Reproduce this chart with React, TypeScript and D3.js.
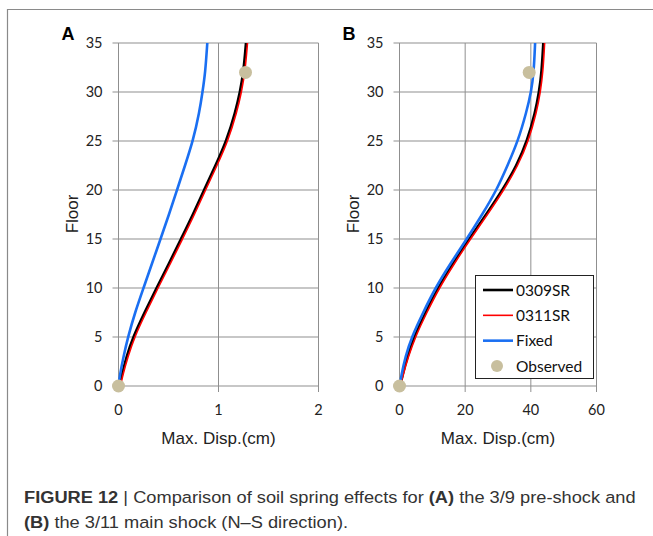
import React, { useEffect, useRef } from 'react'
import * as d3 from 'd3'

// floors shared by every curve
const floors = [0, 1, 3, 5, 7.5, 10, 12.5, 15, 17.5, 20, 22.5, 25, 28, 30, 32, 35]

// panel A - 3/9 pre-shock (cm)
const a0309 = [0.01, 0.03, 0.08, 0.145, 0.26, 0.38, 0.505, 0.625, 0.745, 0.855, 0.97, 1.08, 1.17, 1.215, 1.25, 1.275]
const a0311 = [0.02, 0.04, 0.095, 0.16, 0.275, 0.395, 0.52, 0.64, 0.76, 0.87, 0.985, 1.095, 1.185, 1.23, 1.265, 1.29]
const aFixed = [0, 0.012, 0.05, 0.095, 0.165, 0.25, 0.335, 0.42, 0.505, 0.585, 0.665, 0.745, 0.81, 0.84, 0.868, 0.888]
const aObsDisp = [0, 1.27]
const aObsFloor = [0, 32]
const aTicks = [0, 1, 2]

// panel B - 3/11 main shock (cm)
const b0309 = [0.2, 0.8, 2.4, 4.4, 7.9, 11.7, 16.3, 21.2, 26.4, 31.4, 35.7, 38.9, 41.4, 42.5, 43.3, 43.8]
const b0311 = [0.3, 1.0, 2.7, 4.8, 8.3, 12.1, 16.7, 21.6, 26.8, 31.8, 36.1, 39.3, 41.8, 42.9, 43.7, 44.2]
const bFixed = [0.1, 0.5, 1.8, 3.7, 7.2, 10.9, 15.5, 20.5, 25.2, 29.6, 32.9, 36.1, 38.7, 40.1, 40.9, 41.3]
const bObsDisp = [0, 39.5]
const bObsFloor = [0, 32]
const bTicks = [0, 20, 40, 60]

const floorTicks = [0, 5, 10, 15, 20, 25, 30, 35]
const seriesNames = ['0309SR', '0311SR', 'Fixed', 'Observed']

const colors = { s0309: '#000000', s0311: '#ff0000', fixed: '#1a6ff2', obs: '#c8bf9e' }
const grid = '#8f8f8f'
const tickFont = 'Lato, "Open Sans", sans-serif'
const labelFont = '"Liberation Sans", Arial, sans-serif'

const App = () => {
  const ref = useRef(null)

  useEffect(() => {
    const svg = d3.select(ref.current)
    svg.selectAll('*').remove()

    // frame (top + left rule)
    svg.append('path')
      .attr('d', 'M7.5,653 V9.5 H653')
      .attr('fill', 'none')
      .attr('stroke', '#8a8a8a')
      .attr('stroke-width', 1.2)

    const y = d3.scaleLinear().domain([0, 35]).range([386, 43])

    const panel = (letter, xr, xmax, ticks, s1, s2, s3, obsX, obsY) => {
      const x = d3.scaleLinear().domain([0, xmax]).range(xr)
      const g = svg.append('g')

      // grid
      g.selectAll('.hg').data(floorTicks).join('line')
        .attr('x1', xr[0] - 6).attr('x2', xr[1])
        .attr('y1', d => y(d)).attr('y2', d => y(d))
        .attr('stroke', grid).attr('stroke-width', 1)
      g.selectAll('.vg').data(ticks).join('line')
        .attr('x1', d => x(d)).attr('x2', d => x(d))
        .attr('y1', y(35)).attr('y2', y(0) + 6)
        .attr('stroke', grid).attr('stroke-width', 1)

      // tick labels
      g.selectAll('.yl').data(floorTicks).join('text')
        .attr('x', xr[0] - 16).attr('y', d => y(d)).attr('dy', '0.35em')
        .attr('text-anchor', 'end')
        .attr('font-family', tickFont).attr('font-size', 14.5).attr('fill', '#222')
        .text(d => d)
      g.selectAll('.xl').data(ticks).join('text')
        .attr('x', d => x(d)).attr('y', 410).attr('dy', '0.35em')
        .attr('text-anchor', 'middle')
        .attr('font-family', tickFont).attr('font-size', 14.5).attr('fill', '#222')
        .text(d => d)

      // axis titles
      g.append('text')
        .attr('x', (xr[0] + xr[1]) / 2).attr('y', 444)
        .attr('text-anchor', 'middle')
        .attr('font-family', labelFont).attr('font-size', 17).attr('fill', '#222')
        .text('Max. Disp.(cm)')
      g.append('text')
        .attr('transform', `translate(${xr[0] - 41},214) rotate(-90)`)
        .attr('text-anchor', 'middle')
        .attr('font-family', labelFont).attr('font-size', 17).attr('fill', '#222')
        .text('Floor')
      g.append('text')
        .attr('x', xr[0] - 57).attr('y', 40)
        .attr('font-family', labelFont).attr('font-size', 18).attr('font-weight', 'bold')
        .text(letter)

      const line = vals => d3.line()
        .x((d, i) => x(vals[i]))
        .y(d => y(d))
        .curve(d3.curveBasis)(floors)

      g.append('path').attr('d', line(s1)).attr('fill', 'none')
        .attr('stroke', colors.s0309).attr('stroke-width', 2.6)
      g.append('path').attr('d', line(s2)).attr('fill', 'none')
        .attr('stroke', colors.s0311).attr('stroke-width', 1.6)
      g.append('path').attr('d', line(s3)).attr('fill', 'none')
        .attr('stroke', colors.fixed).attr('stroke-width', 2.6)

      g.selectAll('.obs').data(obsX).join('circle')
        .attr('cx', d => x(d)).attr('cy', (d, i) => y(obsY[i]))
        .attr('r', 6.5).attr('fill', colors.obs)
    }

    panel('A', [118.5, 318.5], 2, aTicks, a0309, a0311, aFixed, aObsDisp, aObsFloor)
    panel('B', [399.5, 596.5], 60, bTicks, b0309, b0311, bFixed, bObsDisp, bObsFloor)

    // legend
    const lg = svg.append('g')
    lg.append('rect')
      .attr('x', 475.5).attr('y', 275.5).attr('width', 118).attr('height', 103)
      .attr('fill', '#fff').attr('stroke', '#222').attr('stroke-width', 1)
    const rowY = d3.scalePoint().domain(seriesNames).range([290, 366])
    const swatch = [
      { c: colors.s0309, w: 2.6 },
      { c: colors.s0311, w: 1.6 },
      { c: colors.fixed, w: 2.6 },
    ]
    seriesNames.forEach((name, i) => {
      if (i < 3) {
        lg.append('line')
          .attr('x1', 483).attr('x2', 513)
          .attr('y1', rowY(name)).attr('y2', rowY(name))
          .attr('stroke', swatch[i].c).attr('stroke-width', swatch[i].w)
      } else {
        lg.append('circle').attr('cx', 497).attr('cy', rowY(name)).attr('r', 6).attr('fill', colors.obs)
      }
      lg.append('text')
        .attr('x', 516).attr('y', rowY(name)).attr('dy', '0.36em')
        .attr('font-family', tickFont).attr('font-size', 15.5).attr('fill', '#111')
        .text(name)
    })

    // caption - condensed face, so squeeze horizontally to fit line 1
    const cap = svg.append('g')
      .attr('font-family', '"Liberation Sans", Arial, sans-serif')
      .attr('font-size', 17).attr('fill', '#333')
    const l1 = cap.append('text').attr('x', 0).attr('y', 503)
    l1.append('tspan').attr('font-weight', 'bold').text('FIGURE 12')
    l1.append('tspan').text(' | Comparison of soil spring effects for ')
    l1.append('tspan').attr('font-weight', 'bold').text('(A)')
    l1.append('tspan').text(' the 3/9 pre-shock and')
    const l2 = cap.append('text').attr('x', 0).attr('y', 528)
    l2.append('tspan').attr('font-weight', 'bold').text('(B)')
    l2.append('tspan').text(' the 3/11 main shock (N\u2013S direction).')
    const w1 = l1.node().getComputedTextLength() || 700
    const sx = 612 / w1
    cap.attr('transform', `translate(24,0) scale(${sx},1)`)
  }, [])

  return (
    <div style={{ position: 'absolute', left: 0, top: 0 }}>
      <svg ref={ref} width={653} height={536} style={{ display: 'block', background: '#fff' }} />
    </div>
  )
}

export default App
